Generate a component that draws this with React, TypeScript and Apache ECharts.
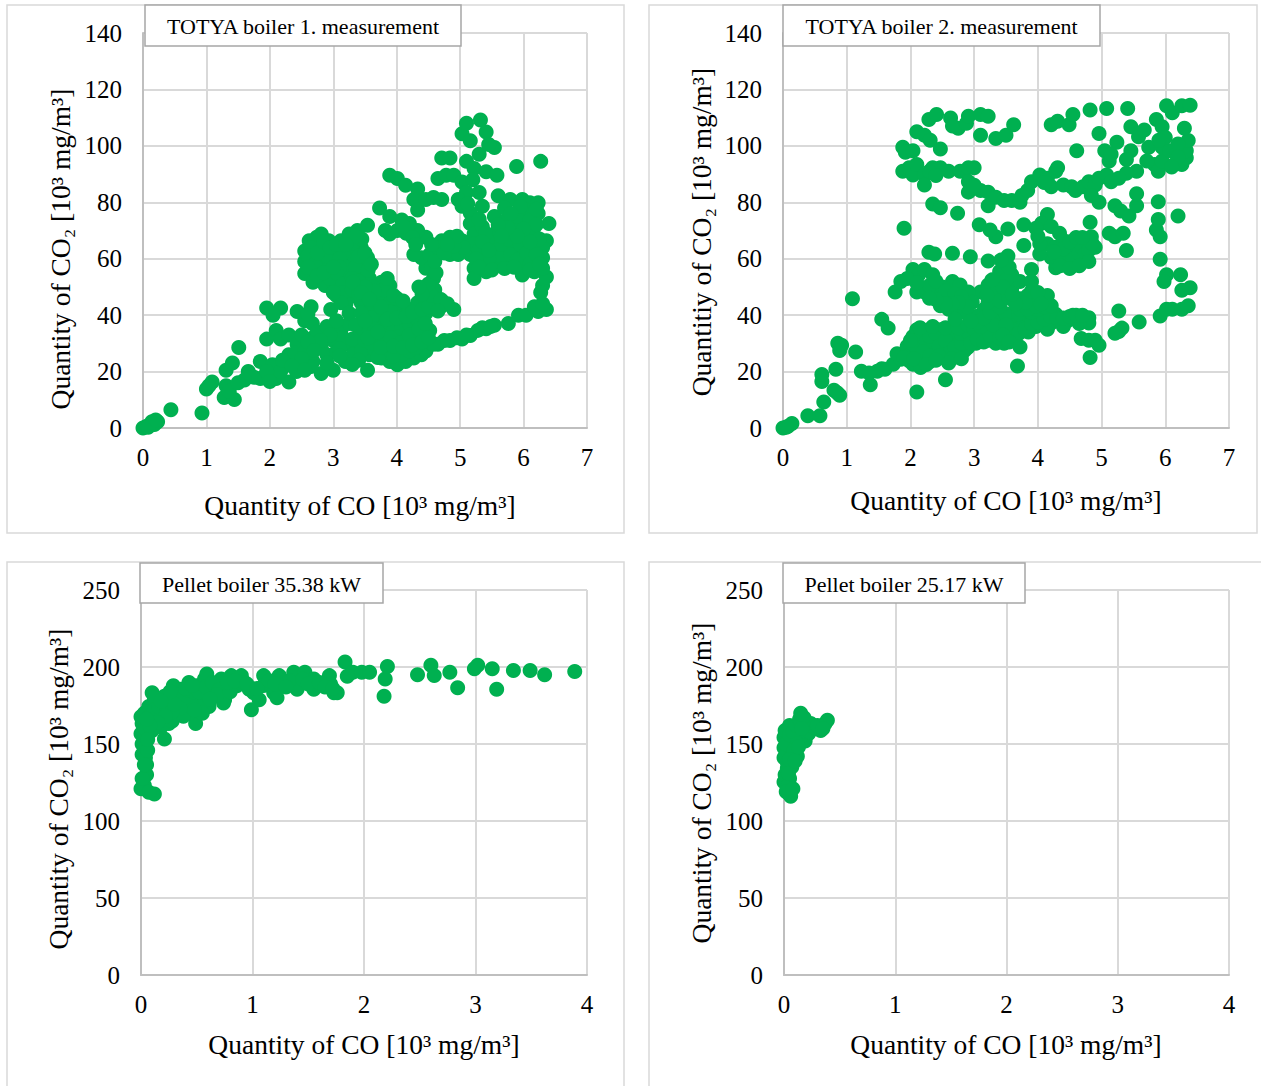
import React, { useEffect, useRef } from "react";
import * as echarts from "echarts";

// ---------- data ----------
const PANEL_TITLES = [
  "TOTYA boiler 1. measurement",
  "TOTYA boiler 2. measurement",
  "Pellet boiler 35.38 kW",
  "Pellet boiler 25.17 kW",
];
const X_TITLE = "Quantity of CO [10³ mg/m³]";
const Y_TITLES = [
  "Quantity of CO₂ [10³ mg/m³]",
  "Quantitiy of CO₂ [10³ mg/m³]",
  "Quantity of CO₂ [10³ mg/m³]",
  "Quantity of CO₂ [10³ mg/m³]",
];
const X_MAX = [7, 7, 4, 4];
const X_STEP = [1, 1, 1, 1];
const Y_MAX = [140, 140, 250, 250];
const Y_STEP = [20, 20, 50, 50];

const TOTYA_1: number[][] = [
  [0, 0], [0.05, 0.5], [0.1, 1], [0.14, 2.2], [0.23, 2.2], [0.18, 1.2], [0.08, 0.3], [0.2, 2.8],
  [0.44, 6.5], [0.93, 5.3], [1.0, 13.8], [1.09, 16.3], [1.04, 15], [1.28, 10.8], [1.44, 10.1], [1.31, 15], [1.36, 13],
  [1.31, 20.5], [1.41, 23], [1.51, 28.5],
  [1.66, 20], [1.85, 23.6], [1.85, 17.5], [2.04, 22.4], [2.1, 17.5], [2.3, 16.3], [2.17, 20], [2.42, 20], [1.75, 18], [1.95, 20], [2.0, 16.5], [1.6, 17], [1.5, 16],
  [1.95, 31.5], [2.1, 34.6], [2.17, 31.5], [2.3, 33],
  [1.95, 42.5], [2.17, 42.5], [2.05, 40],
  [2.43, 41.3], [2.65, 43], [2.55, 38], [2.67, 37], [2.96, 42], [2.6, 40.5],
  [2.3, 26], [2.49, 29.7], [2.68, 32], [2.81, 28.5], [3.0, 31], [3.12, 34.6], [3.25, 37], [3.19, 29.7], [3.38, 29.7], [3.44, 33.4],
  [2.68, 23.6], [2.81, 19.3], [3.0, 20.5], [3.19, 23.6], [3.54, 20.5], [3.31, 26], [3.57, 26], [3.76, 24.8], [3.89, 23.6], [4.01, 22.4],
  [4.14, 23.6], [4.27, 24.8], [4.39, 26], [4.46, 27.3], [4.08, 26], [4.2, 27.3], [2.43, 29.7], [2.65, 21.8], [2.2, 24], [2.4, 26.5],
  [2.55, 27], [2.9, 26], [3.05, 27], [3.45, 27.5], [3.65, 28], [3.85, 27], [3.95, 25.5], [4.3, 28.5], [2.75, 34], [2.9, 36], [3.05, 38], [3.15, 32], [2.5, 33],
  [3.1, 28], [3.3, 31.5], [3.5, 31], [2.95, 33], [2.8, 31], [2.6, 30.5], [2.7, 27.5], [2.5, 24.5], [2.35, 22], [2.55, 20.5],
  [2.9, 23], [3.1, 25.5], [3.4, 24], [3.7, 25], [3.3, 22.5],
  [4.65, 29.7], [4.84, 31], [5.03, 31.5], [5.16, 32.8], [5.28, 34.6], [5.41, 35.2], [5.54, 36.4], [5.76, 37], [4.55, 30], [4.75, 31], [4.95, 32], [5.1, 33], [5.35, 35.5], [5.48, 36],
  [5.92, 40], [6.04, 40], [6.23, 41.3], [6.36, 42], [6.17, 43], [6.3, 44],
  [6.3, 50.5], [6.36, 53.5], [6.27, 48],
  [6.36, 66.4], [6.4, 72.5], [6.23, 76],
  [2.55, 62.7], [2.74, 67.6], [2.81, 68.8], [2.62, 66.4], [2.55, 54.8], [2.68, 51.7], [2.87, 50.5], [2.81, 59], [3.0, 62.7], [2.93, 66.4],
  [3.12, 66.4], [3.25, 68.8], [3.38, 70], [3.54, 71.9], [3.54, 60.3], [3.44, 64], [3.12, 54.2], [3.25, 50.5], [3.44, 55.4], [3.57, 53],
  [3.76, 51.7], [3.89, 50.5], [3.76, 46.8], [3.89, 44.4], [4.01, 43.2], [4.08, 39.5], [3.82, 40.7], [3.63, 42], [3.44, 44.4], [3.31, 46.8],
  [4.2, 42], [4.33, 44.4], [4.46, 45.6], [4.58, 44.4], [4.71, 43.2], [4.9, 42], [4.58, 53], [4.46, 56.6], [4.39, 60.3], [4.27, 61.5],
  [4.52, 61.5], [4.65, 64], [4.71, 66.4], [4.84, 67.6], [5.03, 66.4], [4.46, 67.6], [4.33, 70], [4.2, 72.5], [4.08, 73.7], [3.89, 75],
  [3.73, 78], [3.89, 68.8], [3.82, 70], [4.01, 70],
  [2.68, 60.3], [2.55, 59], [2.81, 64], [2.93, 56.6], [3.0, 51.7], [3.06, 59], [3.25, 59], [3.31, 62.7], [3.44, 59], [2.7, 56], [2.9, 61],
  [3.15, 62], [3.3, 65.5], [2.65, 64], [3.05, 47], [3.2, 44],
  [2.6, 61], [2.7, 58], [2.75, 62], [2.85, 66], [2.95, 64], [3.05, 65], [3.1, 60], [3.2, 57], [3.35, 57], [3.4, 61],
  [3.5, 62], [3.45, 67], [3.35, 68], [3.2, 65], [3.1, 57], [2.95, 53], [3.05, 55], [3.15, 51], [3.3, 53], [3.4, 52],
  [3.55, 56], [3.6, 58], [3.62, 50], [3.7, 47], [3.8, 49], [3.85, 53], [2.6, 57], [2.75, 54], [2.85, 55], [3.0, 57],
  [3.15, 48], [3.3, 49], [3.5, 45], [3.6, 44], [3.7, 41], [3.9, 41], [4.0, 46],
  [3.57, 34.6], [3.7, 37], [3.82, 37], [3.95, 34.6], [4.08, 35.8], [4.2, 37], [4.33, 38.3], [4.46, 40.7], [4.01, 32.2], [3.82, 31],
  [3.7, 31], [4.14, 31], [4.27, 32.2], [4.39, 33.4], [4.52, 34.6], [4.58, 29.7], [3.6, 39], [3.75, 43], [3.95, 47], [4.1, 45],
  [3.65, 48.5], [3.5, 50], [3.4, 47.5],
  [3.65, 35], [3.75, 33], [3.9, 32], [4.05, 30], [4.2, 33], [4.35, 35], [4.45, 37], [3.85, 38.5], [4.0, 39], [4.15, 39.5],
  [4.25, 41], [4.4, 42], [3.6, 30], [3.75, 28.5], [3.95, 29], [4.1, 28.5], [4.25, 29.5], [4.4, 30.5], [4.5, 32], [3.55, 32], [3.7, 34],
  [3.12, 44.4], [3.0, 48], [3.31, 51.7], [3.44, 48], [3.57, 45.6], [3.25, 40.7], [3.44, 40.7], [3.35, 36.5], [3.5, 38],
  [3.89, 89.6], [4.01, 88.4], [4.14, 86], [4.33, 84.7], [4.27, 81], [4.33, 77.3], [4.46, 81], [4.58, 81.7], [4.71, 81],
  [4.71, 95.7], [4.84, 95.7], [4.65, 88.4], [4.78, 89.6], [4.9, 89.6],
  [5.03, 104.3], [5.1, 108], [5.16, 101.8], [5.32, 109.2], [5.41, 104.9], [5.3, 97], [5.54, 99.4], [5.1, 94.5], [5.22, 92], [5.41, 90.8],
  [5.58, 89.6], [5.89, 92.7], [6.27, 94.5], [5.45, 100.5],
  [5.03, 87.2], [5.1, 83.5], [4.97, 81], [5.03, 78.6], [5.16, 76.2], [5.16, 72.5], [5.22, 68.8], [5.35, 78.6], [5.3, 83.5], [5.2, 88], [5.12, 79.5],
  [5.6, 82.3], [5.79, 81], [5.98, 81], [6.1, 79.8], [6.23, 79.8], [6.04, 77.3], [5.92, 73.7], [6.1, 73.7], [5.54, 75], [5.73, 73.7],
  [5.35, 71.3], [5.54, 68.8], [5.73, 68.8], [5.86, 66.4], [6.04, 67.6], [6.17, 65.2], [6.3, 64], [6.3, 60.3], [6.17, 59], [5.98, 57.8],
  [5.92, 61.5], [5.79, 59], [5.6, 57.8], [5.41, 57.8], [5.22, 56.6], [5.22, 53], [5.41, 55.4], [5.73, 64], [5.54, 64], [5.35, 61.5],
  [5.16, 61.5], [5.22, 65.2], [4.84, 61.5], [4.97, 61.5], [5.98, 54.2], [6.17, 55.4], [6.3, 56.6], [6.04, 64], [5.86, 70], [5.45, 67],
  [5.65, 61], [5.85, 63], [6.0, 61], [6.15, 70], [5.3, 74], [5.7, 78], [6.2, 72], [5.05, 64], [4.6, 49], [4.55, 57],
  [5.3, 63], [5.45, 60], [5.5, 66], [5.6, 70], [5.65, 65], [5.75, 67], [5.8, 61.5], [5.9, 59.5], [5.95, 65], [6.05, 62],
  [6.1, 58], [6.2, 61.5], [6.25, 67], [6.1, 66], [6.0, 70.5], [5.9, 68], [5.75, 71], [5.6, 72], [5.4, 69], [5.35, 66],
  [5.25, 60], [5.3, 57], [5.5, 56], [5.7, 56.5], [5.85, 57], [6.1, 56], [6.25, 58], [5.45, 63], [5.65, 68], [6.2, 77.5],
  [5.95, 78.5], [5.8, 76],
  [4.5, 43], [4.55, 47], [4.5, 51], [4.62, 55], [4.6, 59], [4.75, 62], [4.9, 64.5], [4.95, 68], [4.8, 65], [4.55, 65],
  [4.7, 45.5], [4.8, 44], [4.65, 41.5], [4.4, 47.5], [4.35, 50],
  [4.15, 69], [4.25, 67.5], [4.3, 65], [4.1, 71.5],
];

const TOTYA_2: number[][] = [
  [0, 0], [0.08, 0.6], [0.14, 1.6], [0.05, 0.3], [0.39, 4.3], [0.58, 4.3], [0.64, 9.2], [0.61, 16.5], [0.61, 19], [0.83, 20.8],
  [0.86, 30], [0.92, 29.3], [0.89, 27.5], [0.8, 13.4], [0.89, 11.6], [0.85, 12.5], [1.14, 26.9], [1.09, 45.8], [1.23, 20.1], [1.37, 15.3],
  [1.55, 38.5], [1.65, 35.4],
  [1.48, 20.1], [1.6, 20.8], [1.73, 22.6], [1.85, 24.4], [1.79, 26.3], [1.98, 23.8], [1.35, 19.5], [1.55, 21],
  [2.04, 27.5], [2.1, 30], [2.04, 32.4], [2.22, 31.1], [2.35, 30], [2.16, 25], [2.35, 26.3], [2.54, 27.5], [2.47, 31.1], [2.66, 30],
  [2.78, 27.5], [2.72, 32.4], [2.91, 31.7], [3.03, 30], [2.6, 33.6], [2.1, 34.8], [2.29, 34.8], [2.47, 34.8], [2.04, 22.6], [2.16, 21.4],
  [2.1, 12.8], [2.55, 17.1], [2.85, 27.5], [2.25, 28], [2.4, 28.5], [2.6, 29], [2.2, 33], [1.95, 29], [2.0, 26], [2.3, 23.5],
  [2.5, 25], [2.7, 26], [2.9, 28.5], [2.12, 29],
  [2.05, 29.5], [2.15, 32], [2.25, 30.5], [2.3, 32.5], [2.4, 33.5], [2.45, 29], [2.55, 31], [2.6, 26.5], [2.7, 28.5], [2.8, 30],
  [2.8, 33.5], [2.9, 34], [2.95, 30], [2.2, 27], [2.3, 25.5], [2.45, 25.5], [2.65, 24.5], [2.0, 31], [2.15, 35.5], [2.35, 36],
  [2.55, 35.5], [2.75, 35.5], [2.9, 36.5], [1.9, 25], [2.05, 24.5], [2.25, 22.5], [2.4, 24], [2.6, 23], [2.8, 24.5],
  [3.1, 33.6], [3.22, 31.1], [3.34, 30], [3.47, 30], [3.34, 34.8], [3.53, 34.8], [3.65, 36], [3.78, 36], [3.97, 36], [4.09, 37.2],
  [4.21, 37.2], [4.34, 37.9], [4.46, 37.9], [4.59, 38.5], [4.71, 38.5], [4.8, 39.1], [4.8, 37.2], [3.97, 38.5], [3.72, 38.5], [3.22, 37.2],
  [3.34, 40.9], [3.16, 42.1], [3.06, 39.7], [4.09, 40.9], [4.28, 40.3], [3.0, 35], [3.2, 34.5], [3.6, 32.5], [3.85, 34], [4.15, 35],
  [4.4, 36], [4.65, 37], [3.45, 37.5], [3.6, 40], [3.85, 40], [4.55, 40],
  [3.05, 31.5], [3.15, 30.5], [3.25, 33], [3.4, 32], [3.5, 33], [3.6, 35], [3.7, 33.5], [3.8, 35], [3.9, 37], [4.0, 37.5],
  [4.1, 38.5], [4.2, 39.5], [4.3, 39], [4.4, 39], [4.5, 39.5], [4.6, 40], [4.7, 40], [3.1, 36], [3.3, 38], [3.5, 40.5],
  [3.7, 40.5], [3.9, 41], [4.0, 42], [4.1, 43], [3.3, 36.5], [3.5, 36.5], [3.05, 37.5], [3.15, 39], [3.25, 41], [3.4, 43],
  [3.45, 33], [3.55, 30.5],
  [3.1, 48.2], [3.22, 50.7], [3.34, 51.9], [3.47, 54.3], [3.47, 58], [3.53, 61], [3.34, 48.2], [3.59, 49.5], [3.72, 51.9], [3.59, 54.3],
  [3.22, 59.2], [3.22, 44.6], [3.4, 45], [3.55, 46],
  [3.4, 55.5], [3.5, 52.5], [3.45, 50], [3.55, 57], [3.42, 59.5], [3.28, 52.5], [3.2, 47],
  [3.9, 56.2], [3.9, 51.9], [3.72, 45.8], [3.84, 47], [3.97, 45.8], [4.09, 45.8], [4.15, 47], [3.72, 42.1], [3.84, 42.1], [3.97, 43.3],
  [4.21, 43.3], [3.72, 28.7], [3.68, 22],
  [3.8, 44.5], [3.9, 48.5], [4.0, 48], [4.05, 44], [3.65, 44], [3.6, 47.5],
  [1.76, 48.2], [1.85, 51.9], [2.04, 56.2], [2.13, 54.3], [2.22, 56.2], [2.35, 54.3], [2.1, 48.2], [2.22, 48.2], [2.35, 47], [2.47, 45.8],
  [2.6, 45.8], [2.47, 43.3], [2.6, 42.1], [2.72, 42.1], [2.85, 40.9], [2.66, 51.9], [2.78, 50.7], [2.91, 48.2], [2.97, 44.6], [2.85, 44.6],
  [1.95, 53], [2.5, 50], [2.7, 38.5], [2.95, 38],
  [2.3, 50.5], [2.4, 52], [2.55, 48.5], [2.7, 47.5], [2.8, 46.5], [2.9, 43], [2.75, 44.5], [2.65, 44], [2.55, 44], [2.4, 45.5],
  [2.3, 46], [2.1, 51.5],
  [2.29, 62.3], [2.38, 61.7], [2.66, 61.9], [2.94, 60.7], [1.9, 70.8], [2.35, 79.4], [2.47, 78.1], [2.74, 76.1],
  [1.88, 91], [1.98, 92.2], [2.04, 89.7], [2.1, 93.4], [2.22, 89.7], [2.35, 92.2], [2.47, 92.2], [2.6, 91], [2.78, 91], [2.91, 92.2],
  [3.0, 92.2], [2.22, 86.1], [1.88, 99.5], [1.92, 97.7], [2.04, 98.3], [2.3, 91], [2.4, 89.5],
  [2.1, 105], [2.22, 103.8], [2.31, 102], [2.47, 98.9], [2.29, 109.3], [2.41, 111.1], [2.63, 109.9], [2.75, 106.2], [2.66, 107], [2.88, 108],
  [2.91, 110.5], [3.1, 111.1], [3.22, 110.5], [3.1, 103.8], [3.34, 102.6], [3.5, 103.8], [3.62, 107.5],
  [2.91, 87.3], [2.91, 83.6], [3.1, 84.2], [3.22, 83.6], [3.22, 78.8], [3.34, 81.8], [3.47, 80.6], [3.59, 80.6], [3.72, 80], [3.75, 82.4],
  [3.84, 84.2], [3.9, 87.3], [4.03, 89.7], [4.15, 88.5], [4.28, 91], [4.31, 92.2], [4.21, 85.5], [4.4, 86.1], [4.53, 85.5], [4.59, 84.2],
  [4.71, 85.5], [4.8, 87.3], [4.9, 86.1], [4.96, 88.5], [5.08, 89.7], [4.96, 80], [4.84, 82.4], [5.15, 87.3], [3.0, 86], [4.1, 87],
  [4.21, 107.5], [4.31, 108.7], [4.49, 107.5], [4.55, 111.1], [4.61, 98.3], [4.82, 112.7], [5.08, 113.2], [5.41, 113.2], [4.96, 104.4],
  [5.05, 98.3], [5.12, 94.6], [5.24, 101.3], [5.46, 106.8], [5.46, 98.3], [5.58, 103.2], [5.67, 105.6], [5.74, 99.5], [5.83, 93.4], [5.89, 91],
  [5.95, 94.6], [5.86, 109.3], [5.95, 106.8], [6.02, 114.2], [6.11, 111.7], [5.95, 99.5], [6.07, 98.3], [6.14, 93.4], [6.26, 93.4], [6.33, 95.8],
  [6.33, 98.3], [6.36, 101.9], [6.3, 106.2], [6.26, 114.2], [6.39, 114.4], [6.2, 100.7], [5.55, 91], [5.39, 90.3], [5.27, 88.5], [5.39, 95.2],
  [5.71, 94.6], [5.15, 97], [6.0, 103], [5.9, 102], [6.2, 96], [6.1, 92.5],
  [5.21, 78.8], [5.3, 76.9], [5.43, 75.1], [5.55, 78.8], [5.55, 83], [5.89, 80.2], [6.2, 75.1],
  [5.12, 69], [5.21, 67.8], [5.34, 69], [5.39, 62.9],
  [5.86, 70.2], [5.89, 73.9], [5.92, 67.8], [5.92, 59.8], [6.02, 54.3], [5.98, 51.9], [6.24, 54.3], [6.26, 48.8], [6.39, 49.7],
  [5.92, 39.7], [6.02, 42.1], [6.11, 42.1], [6.26, 42.1], [6.36, 43.3],
  [5.27, 41.5], [5.27, 34.2], [5.32, 35.4], [5.21, 33.6], [5.59, 37.6],
  [4.68, 31.7], [4.8, 31.1], [4.9, 31.1], [4.96, 29.3], [4.82, 25],
  [4.82, 72.9], [4.15, 75.7], [4.06, 72.6], [3.97, 70.8], [3.78, 72], [3.78, 64.7], [3.53, 70.5], [3.34, 67.8], [3.25, 70.2], [3.08, 72],
  [4.21, 71.4], [4.34, 69], [4.15, 65.3], [4.28, 64.1], [4.4, 66.5], [4.21, 60.4], [4.28, 56.8], [4.4, 59.2], [4.53, 61.7], [4.59, 64.1],
  [4.65, 66.5], [4.77, 66.5], [4.9, 64.1], [4.46, 58], [4.59, 59.2], [4.71, 60.4], [4.84, 67.8], [4.03, 61.7], [4.03, 65.3], [4.35, 62],
  [4.5, 64], [4.3, 58.5], [4.62, 62.5], [4.0, 68],
  [4.35, 60], [4.45, 61], [4.5, 62.5], [4.55, 60], [4.65, 62], [4.7, 64], [4.75, 62], [4.8, 63], [4.85, 65.5], [4.4, 63.5],
  [4.5, 66], [4.6, 67.5], [4.7, 67.5], [4.25, 62.5], [4.35, 57.5], [4.5, 56.5], [4.65, 57.5], [4.8, 59],
];

const PELLET_35: number[][] = [
  [0, 121], [0.03, 123], [0.05, 130], [0.01, 127.6], [0.12, 117.6], [0.07, 118.7], [0.01, 143.2], [0.04, 141], [0.01, 150], [0, 156.6],
  [0.03, 156.6], [0.05, 136.5], [0.03, 136.5], [0.01, 163.3], [0, 167.7], [0.03, 170], [0.07, 174.4], [0.1, 183.3], [0.06, 146], [0.04, 160],
  [0.21, 153.2],
  [0.1, 165.5], [0.18, 167.7], [0.25, 170], [0.32, 172.2], [0.25, 163.3], [0.18, 161], [0.1, 158.8], [0.14, 176.6], [0.21, 181], [0.29, 187.8],
  [0.36, 185.5], [0.43, 190], [0.5, 187.8], [0.57, 192.2], [0.59, 195.5], [0.43, 181], [0.36, 176.6], [0.5, 181], [0.57, 178.8], [0.65, 181],
  [0.68, 187.8], [0.72, 192.2], [0.75, 178.8], [0.74, 176.6], [0.49, 163.3], [0.43, 170], [0.54, 174.4], [0.61, 174.4], [0.32, 178.8], [0.4, 175],
  [0.25, 177], [0.3, 183], [0.2, 172], [0.15, 170], [0.12, 180], [0.38, 168], [0.45, 176], [0.62, 185], [0.55, 186], [0.28, 165],
  [0.05, 171], [0.08, 168], [0.12, 172], [0.16, 174], [0.2, 177], [0.23, 174], [0.27, 180], [0.33, 182], [0.38, 180], [0.42, 185],
  [0.47, 184], [0.52, 184], [0.58, 187], [0.64, 190], [0.7, 185], [0.68, 182], [0.35, 173], [0.28, 171], [0.22, 168], [0.15, 164],
  [0.08, 162], [0.06, 153], [0.05, 166], [0.4, 186], [0.46, 188], [0.3, 176], [0.26, 184], [0.18, 178], [0.55, 170], [0.48, 172],
  [0.62, 179],
  [0.81, 194.4], [0.9, 194.4], [0.86, 187.8], [0.97, 185.5], [0.93, 190], [1.01, 183.3], [0.99, 172.2], [1.06, 178.8], [1.1, 194.4], [1.19, 183.3],
  [1.22, 180], [1.24, 194.4], [1.29, 190], [1.37, 196.6], [1.4, 185.5], [1.47, 196.6], [1.55, 192.2], [1.55, 185.5], [1.69, 194.4], [1.73, 183.3],
  [1.76, 183.3], [1.83, 203.3], [1.9, 196.6], [1.98, 196.6], [2.05, 196.6], [0.8, 184], [1.1, 188], [1.33, 191], [1.7, 189], [1.85, 194],
  [0.78, 190], [0.84, 191], [0.95, 189], [1.04, 186], [1.15, 191], [1.2, 189], [1.3, 187], [1.45, 192], [1.5, 189], [1.6, 190],
  [1.65, 187], [1.72, 186],
  [2.18, 181], [2.19, 192.2], [2.21, 200.4],
  [2.48, 194.9], [2.6, 201.1], [2.63, 194.4], [2.77, 196.6], [2.84, 186.6],
  [2.99, 198.9], [3.02, 201.1], [3.15, 198.9], [3.19, 185.5], [3.34, 197.8], [3.49, 197.8], [3.62, 194.9], [3.89, 197.1],
];

const PELLET_25: number[][] = [
  [0.06, 116], [0.03, 121], [0, 125.4], [0.01, 130], [0.03, 134.3], [0, 141], [0, 147.6], [0, 154.3], [0.01, 158.8], [0.05, 162],
  [0.06, 152], [0.08, 143.2], [0.12, 142], [0.1, 156.6], [0.13, 158.8], [0.15, 170], [0.17, 165.5], [0.21, 161], [0.24, 163.3], [0.19, 152],
  [0.22, 156.6], [0.33, 158.8], [0.37, 163.3], [0.39, 165.5], [0.05, 127.6], [0.04, 123], [0.02, 143], [0.04, 118], [0.07, 135], [0.06, 148],
  [0.09, 150], [0.1, 160], [0.15, 155], [0.03, 138],
  [0.02, 150], [0.05, 156], [0.08, 158], [0.11, 162], [0.14, 166], [0.18, 167], [0.2, 158], [0.23, 158], [0.27, 161], [0.3, 162],
  [0.35, 160], [0.12, 150], [0.09, 146], [0.04, 131], [0.05, 140], [0.02, 119], [0.08, 121], [0.1, 139], [0.13, 148], [0.16, 160],
];

const PANEL_DATA = [TOTYA_1, TOTYA_2, PELLET_35, PELLET_25];

// ---------- layout & style ----------
const FONT = '"Liberation Serif", "Times New Roman", serif';
const GREEN = "#00b050";
const GRIDS = [
  { left: 143, top: 33, width: 444, height: 395 },
  { left: 783, top: 33, width: 446, height: 395 },
  { left: 141, top: 590, width: 446, height: 385 },
  { left: 784, top: 590, width: 445, height: 385 },
];
const FRAMES = [
  { x: 7, y: 5, width: 617, height: 528 },
  { x: 649, y: 5, width: 608, height: 528 },
  { x: 7, y: 562, width: 617, height: 540 },
  { x: 649, y: 562, width: 640, height: 540 },
];
const TITLE_BOXES = [
  { x: 145, y: 5, width: 316, height: 41 },
  { x: 783, y: 5, width: 317, height: 41 },
  { x: 140, y: 563, width: 243, height: 40 },
  { x: 783, y: 563, width: 242, height: 40 },
];
const Y_TITLE_POS = [
  [60, 249],
  [701, 232],
  [58, 789],
  [701, 783],
];
const X_TITLE_POS = [
  [360, 505],
  [1006, 500],
  [364, 1044],
  [1006, 1044],
];

export default function App() {
  const ref = useRef<HTMLDivElement>(null);

  useEffect(() => {
    document.body.style.margin = "0";
    if (!ref.current) return;
    const chart = echarts.init(ref.current, null, { renderer: "svg" });

    const graphic: any[] = [];
    FRAMES.forEach((f) => {
      graphic.push({
        type: "rect",
        shape: f,
        style: { fill: "none", stroke: "#d9d9d9", lineWidth: 1.5 },
        z: 1,
      });
    });
    TITLE_BOXES.forEach((b, i) => {
      graphic.push({
        type: "rect",
        shape: b,
        style: { fill: "#ffffff", stroke: "#a6a6a6", lineWidth: 1.5 },
        z: 100,
      });
      graphic.push({
        type: "text",
        x: b.x + b.width / 2,
        y: b.y + b.height / 2 + 1,
        style: {
          text: PANEL_TITLES[i],
          fontFamily: FONT,
          fontSize: 22,
          fill: "#000",
          align: "center",
          verticalAlign: "middle",
        },
        z: 101,
      });
    });
    Y_TITLE_POS.forEach((p, i) => {
      graphic.push({
        type: "text",
        x: p[0],
        y: p[1],
        rotation: Math.PI / 2,
        style: {
          text: Y_TITLES[i],
          fontFamily: FONT,
          fontSize: 27.5,
          fill: "#000",
          align: "center",
          verticalAlign: "middle",
        },
        z: 50,
      });
    });
    X_TITLE_POS.forEach((p) => {
      graphic.push({
        type: "text",
        x: p[0],
        y: p[1],
        style: {
          text: X_TITLE,
          fontFamily: FONT,
          fontSize: 27.5,
          fill: "#000",
          align: "center",
          verticalAlign: "middle",
        },
        z: 50,
      });
    });

    const axisCommon = {
      type: "value",
      min: 0,
      axisTick: { show: false },
      axisLine: { show: true, lineStyle: { color: "#bfbfbf", width: 2 } },
      splitLine: { show: true, lineStyle: { color: "#d9d9d9", width: 2 } },
    };

    chart.setOption({
      animation: false,
      backgroundColor: "#ffffff",
      grid: GRIDS.map((g) => ({ ...g, containLabel: false })),
      xAxis: GRIDS.map((_, i) => ({
        ...axisCommon,
        gridIndex: i,
        max: X_MAX[i],
        interval: X_STEP[i],
        axisLabel: { fontFamily: FONT, fontSize: 25, color: "#000", margin: 17 },
      })),
      yAxis: GRIDS.map((_, i) => ({
        ...axisCommon,
        gridIndex: i,
        max: Y_MAX[i],
        interval: Y_STEP[i],
        axisLabel: { fontFamily: FONT, fontSize: 25, color: "#000", margin: 21 },
      })),
      series: PANEL_DATA.map((d, i) => ({
        type: "scatter",
        xAxisIndex: i,
        yAxisIndex: i,
        data: d,
        symbol: "circle",
        symbolSize: 15,
        itemStyle: { color: GREEN, opacity: 1 },
        z: 5,
      })),
      graphic,
    });

    return () => {
      chart.dispose();
    };
  }, []);

  return <div ref={ref} style={{ width: 1261, height: 1086 }} />;
}
